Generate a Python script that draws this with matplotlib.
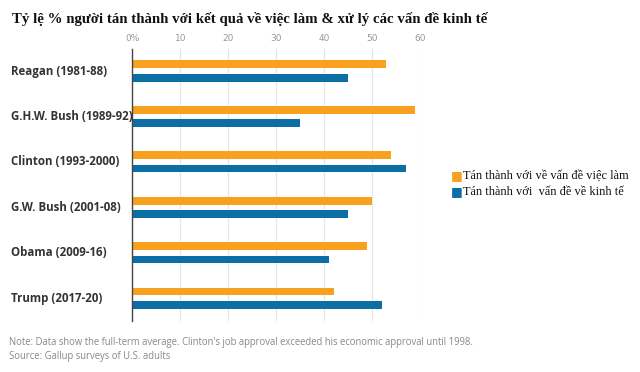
import numpy as np
from matplotlib import pyplot as plt

# du lieu doc tu hinh
presidents = ['Reagan (1981-88)', 'G.H.W. Bush (1989-92)', 'Clinton (1993-2000)',
              'G.W. Bush (2001-08)', 'Obama (2009-16)', 'Trump (2017-20)']
job_approval = [53, 59, 54, 50, 49, 42]
econ_approval = [45, 35, 57, 45, 41, 52]
xticks = [0, 10, 20, 30, 40, 50, 60]
xtick_labels = ['0%', '10', '20', '30', '40', '50', '60']

title = 'Tỷ lệ % người tán thành với kết quả về việc làm & xử lý các vấn đề kinh tế'
legend_labels = ['Tán thành với về vấn đề việc làm', 'Tán thành với  vấn đề về kinh tế']
note = "Note: Data show the full-term average. Clinton's job approval exceeded his economic approval until 1998."
source = 'Source: Gallup surveys of U.S. adults'

orange = '#F7A11F'
blue = '#0B6FA6'

W, H = 640, 372
fig = plt.figure(figsize=(W / 100, H / 100), dpi=100)
# truc: x 0..60 -> 132..420 px, y 49..321 px
ax = fig.add_axes([132.3 / W, 1 - 321 / H, (420 - 132.3) / W, (321 - 49) / H])

y = np.arange(len(presidents))
bh = 0.17
off = 0.147
ax.barh(y - off, job_approval, height=bh, color=orange, label=legend_labels[0], zorder=3)
ax.barh(y + off, econ_approval, height=bh, color=blue, label=legend_labels[1], zorder=3)

ax.set_xlim(0, 60)
ax.set_ylim(5.5, -0.484)
ax.set_xticks(xticks)
ax.set_xticklabels(xtick_labels)
ax.xaxis.tick_top()
ax.tick_params(axis='x', length=0, pad=4, labelsize=6.5, labelcolor='#999999')
ax.set_yticks(y)
ax.set_yticklabels([])
ax.tick_params(axis='y', length=0)
ax.grid(axis='x', color='#e6e6e6', linewidth=0.8, zorder=0)
for s in ['top', 'right', 'bottom']:
    ax.spines[s].set_visible(False)
ax.spines['left'].set_color('#444444')
ax.spines['left'].set_linewidth(1.0)
ax.spines['left'].set_zorder(4)

for i, name in enumerate(presidents):
    yy = 71 + 45.46 * i
    fig.text(11 / W, 1 - yy / H, name, ha='left', va='center', fontsize=8.3,
             fontweight='bold', color='#333333', family='Open Sans')

fig.text(12 / W, 1 - 19 / H, title, ha='left', va='center', fontsize=10.75,
         fontweight='bold', color='#111111', family='Liberation Serif')

# chu thich
leg_y = [176, 192]
for k, (lab, col) in enumerate(zip(legend_labels, [orange, blue])):
    fig.text(451 / W, 1 - leg_y[k] / H, '\u25A0', ha='left', va='center', fontsize=9,
             color=col, family='DejaVu Sans')
    fig.text(463 / W, 1 - leg_y[k] / H, lab, ha='left', va='center', fontsize=8.9,
             color='#111111', family='Liberation Serif')

fig.text(9 / W, 1 - 342 / H, note, ha='left', va='center', fontsize=6.85,
         color='#888888', family='Open Sans')
fig.text(9 / W, 1 - 357 / H, source, ha='left', va='center', fontsize=6.85,
         color='#888888', family='Open Sans')

fig.savefig('out.png', dpi=100)
